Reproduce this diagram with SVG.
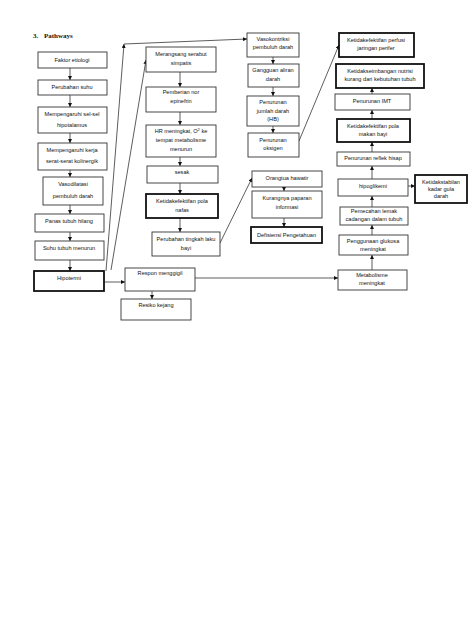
<svg xmlns="http://www.w3.org/2000/svg" width="474" height="632" viewBox="0 0 474 632">
<style>
.b{fill:#fff;stroke:#333;stroke-width:0.9}
.t{fill:#fff;stroke:#111;stroke-width:1.8}
text{font-family:"Liberation Sans",Arial,sans-serif;font-size:5.6px;fill:#111;text-anchor:middle}
.h{font-family:"Liberation Serif","Times New Roman",serif;font-size:7px;font-weight:bold;text-anchor:start}
.c line,.c path{stroke:#333;stroke-width:0.8;fill:none;marker-end:url(#a)}
</style>
<defs>
<marker id="a" viewBox="0 0 6 6" refX="6" refY="3" markerWidth="4" markerHeight="4" orient="auto" markerUnits="userSpaceOnUse"><path d="M0,0L6,3L0,6z" fill="#111"/></marker>
</defs>
<rect width="474" height="632" fill="#fff"/>
<text class="h" x="33" y="38">3.</text>
<text class="h" x="44" y="38">Pathways</text>
<g class="c">
<line x1="70" y1="68" x2="70" y2="80"/>
<line x1="70" y1="95" x2="70" y2="107"/>
<line x1="70" y1="133" x2="70" y2="143"/>
<line x1="70" y1="170" x2="70" y2="177"/>
<line x1="70" y1="205" x2="70" y2="214"/>
<line x1="70" y1="232" x2="70" y2="241"/>
<line x1="70" y1="260" x2="70" y2="271"/>
<line x1="180" y1="72" x2="180" y2="87"/>
<line x1="180" y1="112" x2="180" y2="125"/>
<line x1="180" y1="157" x2="180" y2="166"/>
<line x1="180" y1="183" x2="180" y2="194"/>
<line x1="180" y1="218" x2="180" y2="232"/>
<line x1="152" y1="291" x2="152" y2="299"/>
<line x1="104" y1="282" x2="125" y2="282"/>
<line x1="195" y1="278" x2="338" y2="278"/>
<line x1="273" y1="57" x2="273" y2="64"/>
<line x1="273" y1="87" x2="273" y2="96"/>
<line x1="273" y1="126" x2="273" y2="133"/>
<line x1="284" y1="187" x2="284" y2="191"/>
<line x1="284" y1="218" x2="284" y2="227"/>
<line x1="372" y1="270" x2="372" y2="255"/>
<line x1="372" y1="235" x2="372" y2="225"/>
<line x1="372" y1="207" x2="372" y2="196"/>
<line x1="372" y1="179" x2="372" y2="166"/>
<line x1="372" y1="152" x2="372" y2="142"/>
<line x1="372" y1="119" x2="372" y2="110"/>
<line x1="372" y1="94" x2="372" y2="88"/>
<line x1="408" y1="186" x2="415" y2="186"/>
<line x1="106" y1="271" x2="124" y2="44"/>
<line x1="124" y1="44" x2="247" y2="39"/>
<line x1="111" y1="270" x2="146" y2="60"/>
<line x1="220" y1="243" x2="252" y2="178"/>
<line x1="299" y1="141" x2="339" y2="45"/>
</g>
<g id="n1"><rect class="b" x="38" y="52" width="69" height="16"/><text x="72" y="61.5">Faktor etiologi</text></g>
<g id="n2"><rect class="b" x="38" y="80" width="69" height="15"/><text x="72" y="89">Perubahan suhu</text></g>
<g id="n3"><rect class="b" x="38" y="107" width="69" height="26"/><text x="72" y="116">Mempengaruhi sel-sel</text><text x="72" y="127">hipotalamus</text></g>
<g id="n4"><rect class="b" x="38" y="143" width="69" height="27"/><text x="72" y="152">Mempengaruhi kerja</text><text x="72" y="163">serat-serat kolinergik</text></g>
<g id="n5"><rect class="b" x="43" y="177" width="60" height="28"/><text x="73" y="186">Vasodilatasi</text><text x="73" y="198">pembuluh darah</text></g>
<g id="n6"><rect class="b" x="35" y="214" width="69" height="18"/><text x="69" y="223">Panas tubuh hilang</text></g>
<g id="n7"><rect class="b" x="35" y="241" width="69" height="19"/><text x="69" y="250">Suhu tubuh menurun</text></g>
<g id="n8"><rect class="t" x="34" y="271" width="70" height="20"/><text x="69" y="280">Hipotermi</text></g>
<g id="m1"><rect class="b" x="146" y="47" width="70" height="25"/><text x="181" y="56">Merangsang serabut</text><text x="181" y="65">simpatis</text></g>
<g id="m2"><rect class="b" x="146" y="87" width="70" height="25"/><text x="181" y="94">Pemberian nor</text><text x="181" y="103">epinefrin</text></g>
<g id="m3"><rect class="b" x="146" y="125" width="70" height="32"/><text x="181" y="133">HR meningkat, O<tspan font-size="4" dy="-2">2</tspan><tspan dy="2"> ke</tspan></text><text x="181" y="142">tempat metabolisme</text><text x="181" y="151">menurun</text></g>
<g id="m4"><rect class="b" x="147" y="166" width="71" height="17"/><text x="182" y="174">sesak</text></g>
<g id="m5"><rect class="t" x="146" y="194" width="72" height="24"/><text x="182" y="203">Ketidakefektifan pola</text><text x="182" y="212">nafas</text></g>
<g id="m6"><rect class="b" x="152" y="232" width="68" height="24"/><text x="186" y="241">Perubahan tingkah laku</text><text x="186" y="250">bayi</text></g>
<g id="m7"><rect class="b" x="125" y="268" width="70" height="23"/><text x="160" y="275">Respon menggigil</text></g>
<g id="m8"><rect class="b" x="121" y="299" width="70" height="21"/><text x="156" y="307">Resiko kejang</text></g>
<g id="v1"><rect class="b" x="247" y="33" width="52" height="24"/><text x="273" y="41">Vasokontriksi</text><text x="273" y="49">pembuluh darah</text></g>
<g id="v2"><rect class="b" x="248" y="64" width="51" height="23"/><text x="273" y="72">Gangguan aliran</text><text x="273" y="81">darah</text></g>
<g id="v3"><rect class="b" x="247" y="96" width="52" height="30"/><text x="273" y="104">Penurunan</text><text x="273" y="113">jumlah darah</text><text x="273" y="121">(HB)</text></g>
<g id="v4"><rect class="b" x="248" y="133" width="51" height="24"/><text x="273" y="142">Penurunan</text><text x="273" y="150">oksigen</text></g>
<g id="o1"><rect class="b" x="252" y="171" width="70" height="16"/><text x="287" y="180">Orangtua hawatir</text></g>
<g id="o2"><rect class="b" x="252" y="191" width="70" height="27"/><text x="287" y="200">Kurangnya paparan</text><text x="287" y="209">informasi</text></g>
<g id="o3"><rect class="t" x="251" y="227" width="71" height="16"/><text x="286.5" y="237">Defisiensi Pengetahuan</text></g>
<g id="r1"><rect class="t" x="339" y="33" width="75" height="24"/><text x="376" y="42">Ketidakefektifan perfusi</text><text x="376" y="50">jaringan perifer</text></g>
<g id="r2"><rect class="t" x="336" y="64" width="88" height="24"/><text x="380" y="73">Ketidakseimbangan nutrisi</text><text x="380" y="81">kurang dari kebutuhan tubuh</text></g>
<g id="r3"><rect class="b" x="335" y="94" width="75" height="16"/><text x="372" y="103">Penurunan IMT</text></g>
<g id="r4"><rect class="t" x="337" y="119" width="73" height="23"/><text x="373" y="128">Ketidakefektifan pola</text><text x="373" y="136">makan bayi</text></g>
<g id="r5"><rect class="b" x="337" y="152" width="73" height="14"/><text x="373" y="160">Penurunan reflek hisap</text></g>
<g id="r6"><rect class="b" x="338" y="179" width="70" height="17"/><text x="373" y="188">hipoglikemi</text></g>
<g id="r7"><rect class="t" x="415" y="175" width="52" height="28"/><text x="441" y="184">Ketidakstabilan</text><text x="441" y="191">kadar gula</text><text x="441" y="198">darah</text></g>
<g id="r8"><rect class="b" x="340" y="207" width="68" height="18"/><text x="374" y="213">Pemecahan lemak</text><text x="374" y="220.5">cadangan dalam tubuh</text></g>
<g id="r9"><rect class="b" x="339" y="235" width="69" height="20"/><text x="373" y="243">Penggunaan glukosa</text><text x="373" y="251">meningkat</text></g>
<g id="r10"><rect class="b" x="338" y="270" width="69" height="20"/><text x="372" y="277">Metabolisme</text><text x="372" y="285">meningkat</text></g>
</svg>
